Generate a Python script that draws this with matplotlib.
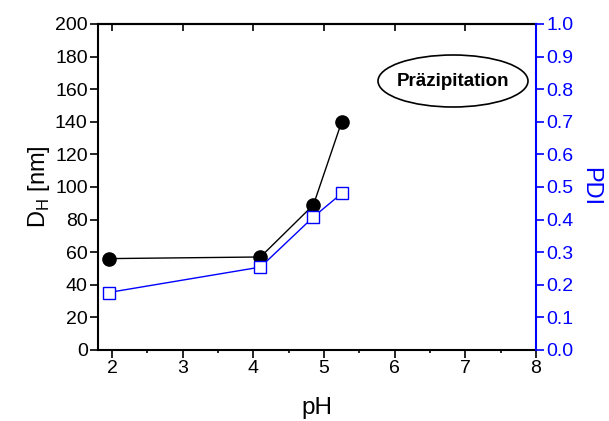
import matplotlib
matplotlib.use('Agg')
import matplotlib.pyplot as plt
from matplotlib.patches import Ellipse

plt.rcParams['font.family'] = ['Liberation Sans', 'DejaVu Sans']
plt.rcParams['mathtext.fontset'] = 'custom'
plt.rcParams['mathtext.rm'] = 'Liberation Sans'

# data
ph = [1.95, 4.1, 4.85, 5.25]
dh_nm = [56, 57, 89, 140]
pdi = [0.176, 0.254, 0.408, 0.48]

fig = plt.figure(figsize=(6.09, 4.21), dpi=100)
ax = fig.add_axes([0.161, 0.169, 0.719, 0.774])

ax.plot(ph, dh_nm, color='black', lw=1.0, marker='o', ms=9.5,
        mfc='black', mec='black', zorder=3)
ax.set_xlim(1.8, 8)
ax.set_ylim(0, 200)
ax.set_xticks(range(2, 9))
ax.set_xticks([2.5, 3.5, 4.5, 5.5, 6.5, 7.5], minor=True)
ax.set_yticks(range(0, 201, 20))
ax.tick_params(axis='both', labelsize=14, width=1.2, length=5.5, pad=2)
ax.tick_params(axis='x', which='minor', length=2.5, width=1.2)
ax.set_xlabel('pH', fontsize=17.5, labelpad=14)
ax.set_ylabel(r'D$_\mathregular{H}$ [nm]', fontsize=17, labelpad=2)
for s in ['left', 'bottom', 'top']:
    ax.spines[s].set_linewidth(1.5)
ax.spines['right'].set_visible(False)
# top ticks point inward
top = ax.secondary_xaxis('top')
top.set_xticks(range(2, 9))
top.tick_params(direction='in', length=5, width=1.2, labeltop=False)
top.spines['top'].set_linewidth(1.5)

ax2 = ax.twinx()
ax2.plot(ph, pdi, color='blue', lw=1.0, marker='s', ms=8.5,
         mfc='white', mec='blue', mew=1.0, zorder=3)
ax2.set_ylim(0, 1.0)
ax2.set_yticks([i / 10 for i in range(11)])
ax2.set_yticklabels(['%.1f' % (i / 10) for i in range(11)])
ax2.tick_params(axis='y', colors='blue', labelsize=14, width=1.2, length=5.5, pad=2)
ax2.set_ylabel('PDI', color='blue', fontsize=17, rotation=270, labelpad=20)
ax2.spines['right'].set_color('blue')
ax2.spines['right'].set_linewidth(1.5)
for s in ['left', 'bottom', 'top']:
    ax2.spines[s].set_visible(False)

ell = Ellipse((453 / 609, 1 - 81 / 421), 150 / 609, 52 / 421,
              transform=fig.transFigure, fill=False, ec='black', lw=1.2)
fig.patches.append(ell)
fig.text(453 / 609, 1 - 81 / 421, 'Präzipitation', ha='center', va='center',
         fontsize=13.5, fontweight='bold')

fig.savefig('out.png', dpi=100)
